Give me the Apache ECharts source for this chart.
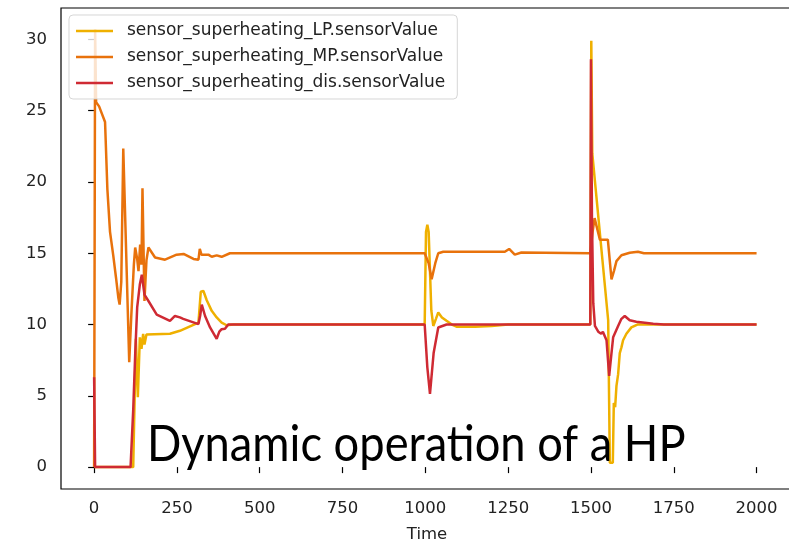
<!DOCTYPE html>
<html>
<head>
<meta charset="utf-8">
<script src="https://cdn.jsdelivr.net/npm/echarts@6/dist/echarts.min.js"></script>
<style>
  html, body { margin: 0; padding: 0; background: #fff; }
  #chart { width: 789px; height: 539px; }
</style>
</head>
<body>
<div id="chart"></div>
<script>
// series names
const seriesNames = [
  'sensor_superheating_LP.sensorValue',
  'sensor_superheating_MP.sensorValue',
  'sensor_superheating_dis.sensorValue'
]

// [time, value]
const lpData = [
  [0, 0], [118, 0], [126, 9.0], [132, 4.9], [138, 9.1], [143, 8.3], [148, 9.35], [152, 8.6],
  [158, 9.3], [229, 9.35], [259, 9.56], [315, 10.14], [322, 12.3], [330, 12.35], [340, 11.7],
  [355, 10.96], [370, 10.5], [385, 10.14], [400, 9.95], [420, 10.0],
  [998, 10.0], [1002, 16.5], [1006, 17.0], [1010, 16.5], [1018, 11.0], [1024, 9.9], [1032, 10.4],
  [1039, 10.85], [1050, 10.5], [1064, 10.26], [1080, 10.0], [1094, 9.85], [1150, 9.85], [1200, 9.9],
  [1250, 10.0], [1498, 10.0], [1501, 29.9], [1504, 22.0], [1552, 10.3], [1557, 0.3], [1566, 0.3],
  [1569, 4.5], [1573, 4.2], [1577, 5.7], [1582, 6.5], [1587, 8.0], [1592, 8.4], [1597, 8.9],
  [1607, 9.35], [1622, 9.8], [1640, 10.0], [2000, 10.0]
]

const mpData = [
  [0, 0], [3, 30.7], [6, 25.6], [15, 25.3], [33, 24.2], [40, 19.5], [48, 16.5], [58, 14.8],
  [66, 13.3], [73, 11.9], [77, 11.4], [82, 13.0], [88, 22.35], [90, 22.3], [106, 7.35], [112, 10.5],
  [120, 14.2], [124, 15.4], [130, 14.6], [134, 13.75], [139, 15.6], [143, 14.2], [146, 19.55],
  [152, 11.65], [158, 14.5], [164, 15.4], [184, 14.7], [214, 14.55], [249, 14.9], [270, 14.95],
  [300, 14.6], [315, 14.55], [319, 15.3], [324, 14.9], [345, 14.9], [355, 14.75], [370, 14.85],
  [385, 14.75], [410, 15.0], [998, 15.0], [1010, 14.3], [1019, 13.17], [1030, 14.3], [1039, 15.0],
  [1054, 15.1], [1240, 15.1], [1253, 15.3], [1270, 14.9], [1290, 15.05], [1498, 15.0], [1505, 16.5],
  [1511, 17.46], [1527, 15.95], [1551, 15.95], [1562, 13.17], [1570, 13.8], [1577, 14.45],
  [1592, 14.86], [1617, 15.03], [1642, 15.1], [1660, 15.0], [2000, 15.0]
]

const disData = [
  [0, 6.3], [3, 0], [110, 0], [118, 4.0], [124, 7.9], [130, 11.2], [138, 12.8], [144, 13.5],
  [152, 12.1], [164, 11.65], [189, 10.7], [229, 10.26], [244, 10.6], [259, 10.5], [269, 10.4],
  [315, 10.03], [320, 10.6], [325, 11.4], [335, 10.6], [350, 9.8], [370, 9.0], [378, 9.5],
  [385, 9.67], [395, 9.7], [405, 10.0], [998, 10.0], [1006, 7.0], [1014, 5.14], [1025, 8.0],
  [1039, 9.79], [1064, 10.0], [1498, 10.0], [1500, 28.6], [1503, 17.5], [1507, 11.5], [1512, 9.9],
  [1522, 9.5], [1531, 9.35], [1536, 9.5], [1547, 8.9], [1555, 6.4], [1562, 8.0], [1567, 9.1],
  [1582, 9.9], [1592, 10.4], [1602, 10.6], [1617, 10.3], [1637, 10.2], [1688, 10.05], [1720, 10.0],
  [2000, 10.0]
]

const xTicks = [0, 250, 500, 750, 1000, 1250, 1500, 1750, 2000]
const yTicks = [0, 5, 10, 15, 20, 25, 30]

const colors = ['#efb000', '#e8720c', '#cf2a33']

const myChart = echarts.init(document.getElementById('chart'))

const makeLine = (name, data, color) => ({
  name: name,
  type: 'line',
  data: data,
  symbol: 'none',
  lineStyle: { width: 2.5, color: color },
  itemStyle: { color: color },
  animation: false
})

const tickFont = { fontFamily: 'DejaVu Sans', fontSize: 16.5, color: '#222' }

const myOption = {
  backgroundColor: '#fff',
  grid: {
    left: 61,
    top: 8,
    width: 732,
    height: 481,
    outerBoundsMode: 'none',
    containLabel: false,
    show: true,
    borderColor: '#000',
    borderWidth: 1.2,
    backgroundColor: 'transparent'
  },
  legend: {
    orient: 'vertical',
    left: 69,
    top: 15,
    padding: [6, 12, 6, 7],
    itemGap: 6,
    itemWidth: 37,
    itemHeight: 2.5,
    icon: 'rect',
    backgroundColor: 'rgba(255,255,255,0.8)',
    borderColor: 'rgba(204,204,204,0.8)',
    borderWidth: 1,
    borderRadius: 4,
    textStyle: {
      fontFamily: 'DejaVu Sans',
      fontSize: 17,
      lineHeight: 20,
      color: '#222',
      padding: [0, 0, 0, 9]
    },
    data: seriesNames
  },
  xAxis: {
    type: 'value',
    min: -100,
    max: 2110,
    name: 'Time',
    nameLocation: 'middle',
    nameGap: 37,
    nameTextStyle: tickFont,
    axisLine: { show: false },
    axisTick: { show: true, length: 6, customValues: xTicks, lineStyle: { color: '#000', width: 1.2 } },
    axisLabel: { customValues: xTicks, margin: 11, formatter: (v) => String(v), ...tickFont },
    splitLine: { show: false }
  },
  yAxis: {
    type: 'value',
    min: -1.535,
    max: 32.2,
    axisLine: { show: false },
    axisTick: { show: true, length: 6, customValues: yTicks, lineStyle: { color: '#000', width: 1.2 } },
    axisLabel: { customValues: yTicks, margin: 14, formatter: (v) => String(v), ...tickFont },
    splitLine: { show: false }
  },
  graphic: [{
    type: 'text',
    left: 147,
    top: 420,
    z: 100,
    scaleX: 0.905,
    style: {
      text: 'Dynamic operation of a HP',
      fontFamily: 'Lato',
      fontSize: 50,
      fill: '#000'
    }
  }],
  series: [
    makeLine(seriesNames[0], lpData, colors[0]),
    makeLine(seriesNames[1], mpData, colors[1]),
    makeLine(seriesNames[2], disData, colors[2])
  ]
}
myChart.setOption(myOption)
</script>
</body>
</html>
